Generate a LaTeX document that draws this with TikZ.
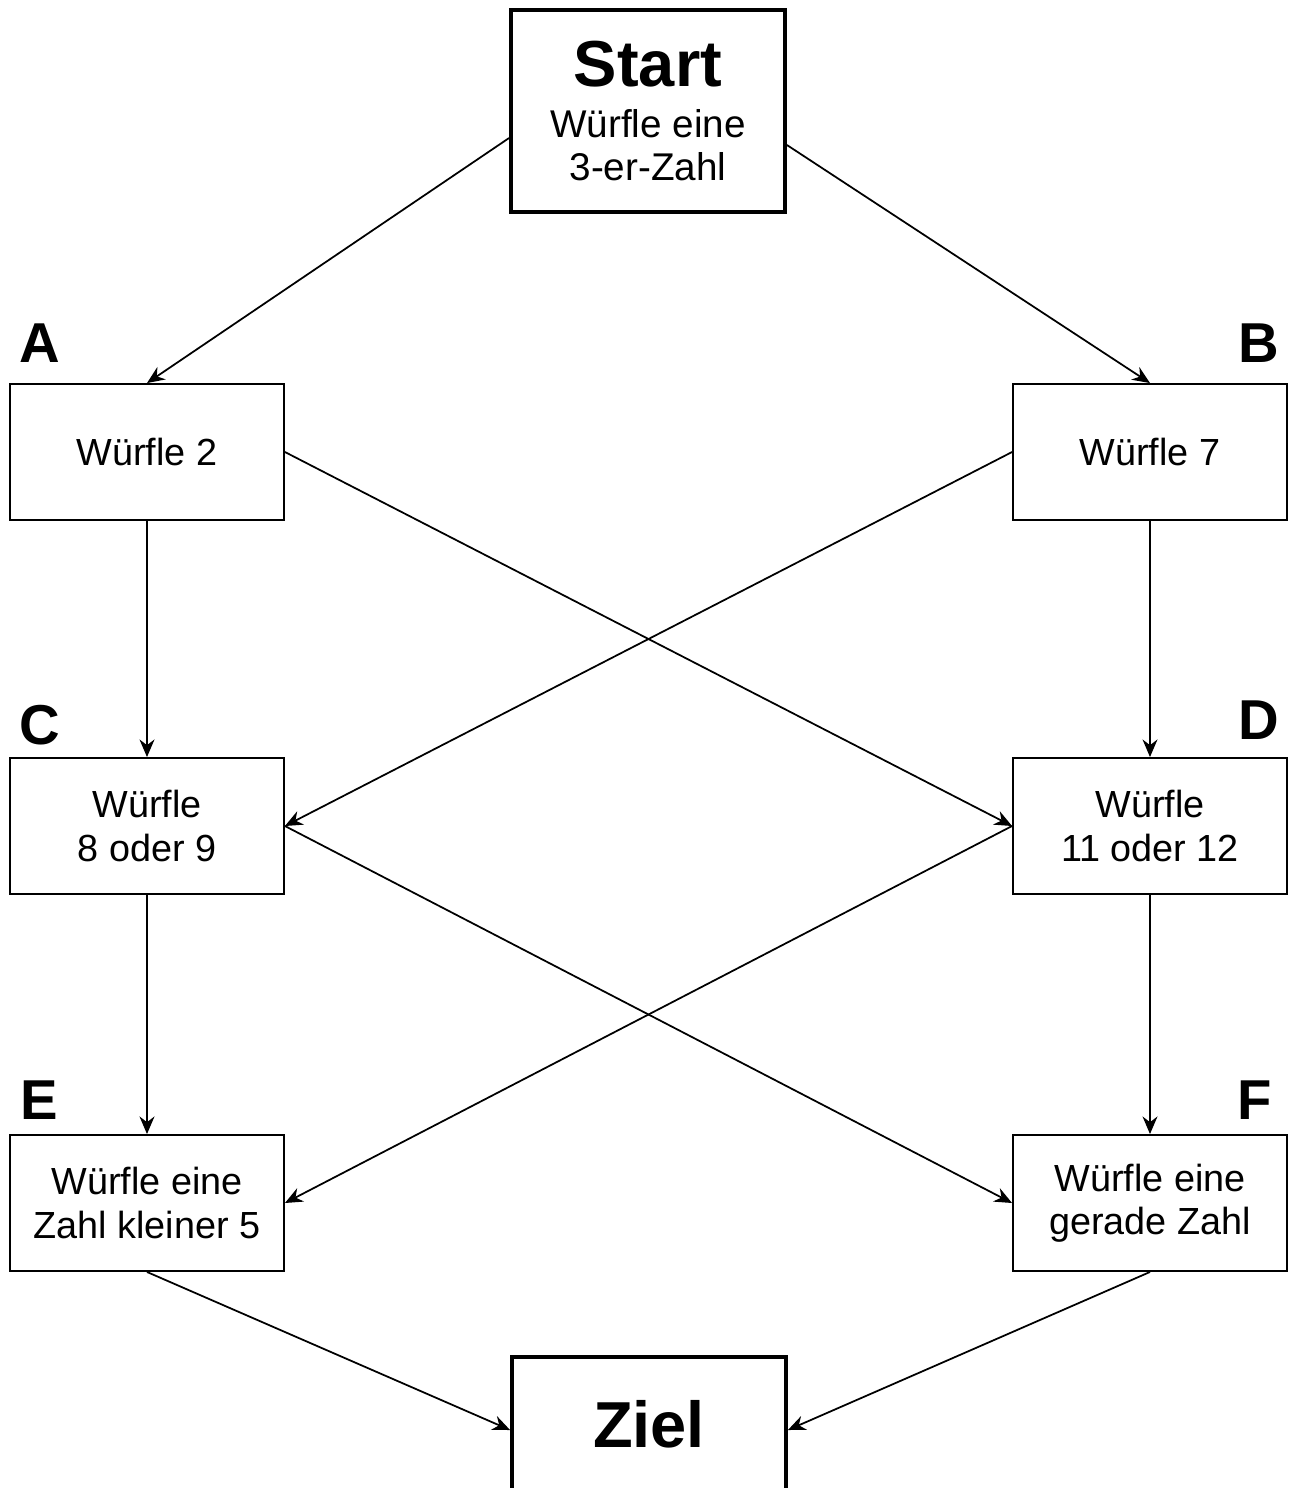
\documentclass[tikz,border=0pt]{standalone}
\usepackage{fontspec}
\setmainfont{Liberation Sans}
\usetikzlibrary{arrows.meta}

\tikzset{
    feld/.style={draw,
        line width=1.1pt,
        minimum width=5.48cm,
        minimum height=2.72cm,
        align=center,
        inner sep=0pt,
        font=\fontsize{21.5}{24.5}\selectfont
    },
    endfeld/.style={draw,
        line width=2.2pt,
        minimum width=5.48cm,
        minimum height=4.04cm,
        align=center,
        inner sep=0pt,
        font=\fontsize{22}{24}\selectfont
    },
    buchst/.style={
        inner sep=0pt,
        font=\fontsize{32}{36}\selectfont\bfseries
    },
    pfeil/.style={line width=1pt, -{Stealth[length=10pt,width=8.5pt]}},
}

\begin{document}
\begin{tikzpicture}[x=0.02cm, y=-0.02cm]
\useasboundingbox (0,0) rectangle (1289,1488);

% Start
\node (start) [endfeld] at (648,111)
    {{\fontsize{37}{40}\selectfont\bfseries Start}\\[5pt]
     W\"urfle eine\\3-er-Zahl};

% A und B
\node (wa) [feld] at (147,452) {W\"urfle 2};
\node (wb) [feld] at (1150,452) {W\"urfle 7};
\node (la) [buchst] at (40,343) {A};
\node (lb) [buchst] at (1259,343) {B};

% C und D
\node (wc) [feld] at (147,826) {W\"urfle\\8 oder 9};
\node (wd) [feld] at (1150,826) {W\"urfle\\11 oder 12};
\node (lc) [buchst] at (40,725) {C};
\node (ld) [buchst] at (1259,720) {D};

% E und F
\node (we) [feld] at (147,1203) {W\"urfle eine\\Zahl kleiner 5};
\node (wf) [feld] at (1150,1203) {W\"urfle eine\\gerade Zahl};
\node (le) [buchst] at (39,1100) {E};
\node (lf) [buchst] at (1255,1100) {F};

% Ziel
\node (ziel) [endfeld,
    text height=1cm,
    text depth=1.44cm
] at (649,1458) {{\fontsize{37}{40}\selectfont\bfseries Ziel}};

%-------------------------------------
\draw [pfeil] ([yshift=-0.54cm]start.west) -- (wa.north);
\draw [pfeil] ([yshift=-0.68cm]start.east) -- (wb.north);

\draw [pfeil] (wa.south) -- (wc.north);
\draw [pfeil] (wa.east) -- (wd.west);
\draw [pfeil] (wb.west) -- (wc.east);
\draw [pfeil] (wb.south) -- (wd.north);

\draw [pfeil] (wc.south) -- (we.north);
\draw [pfeil] (wc.east) -- (wf.west);
\draw [pfeil] (wd.west) -- (we.east);
\draw [pfeil] (wd.south) -- (wf.north);

\draw [pfeil] (we.south) -- ([yshift=0.56cm]ziel.west);
\draw [pfeil] (wf.south) -- ([yshift=0.56cm]ziel.east);

\end{tikzpicture}
\end{document}
